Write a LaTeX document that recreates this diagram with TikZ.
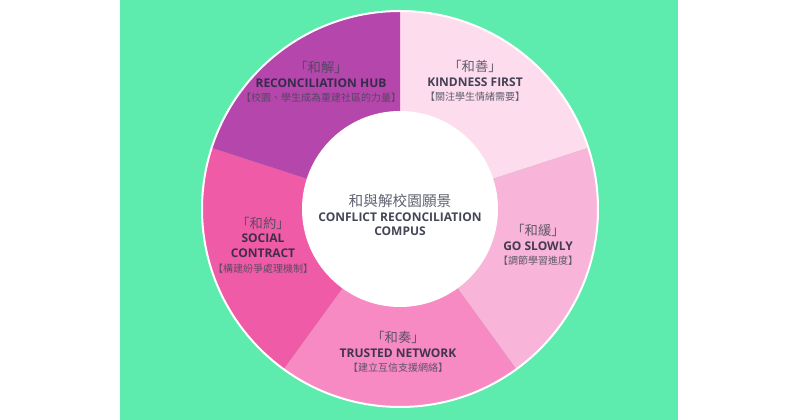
\documentclass[tikz,border=0pt]{standalone}
\usepackage{fontspec}
\setsansfont{Open Sans}
\newfontfamily\cjk{Noto Sans CJK TC}
\usetikzlibrary{positioning}
\definecolor{ink}{HTML}{23263A}
\definecolor{mint}{HTML}{5EEBAE}
\definecolor{kind}{HTML}{FDDCED}
\definecolor{slow}{HTML}{F8B4D9}
\definecolor{trust}{HTML}{F78AC2}
\definecolor{social}{HTML}{EF5BA7}
\definecolor{hub}{HTML}{B546AB}
\newcommand{\seghead}[1]{{\cjk\color{ink!85}\fontsize{10}{11}\selectfont #1}}
\newcommand{\segname}[1]{{\sffamily\bfseries\fontsize{9}{11}\selectfont #1}}
\newcommand{\segnote}[1]{{\cjk\color{ink!85}\fontsize{7.5}{11}\selectfont #1}}

\begin{document}
\begin{tikzpicture}[x=.75pt,y=.75pt,text=ink,
  seglabel/.style={align=center,inner sep=0pt,text opacity=.85,font=\fontsize{9}{11}\selectfont}]
\useasboundingbox (0,0) rectangle (800,420);
\fill[white] (0,0) rectangle (800,420);
\fill[mint] (120,0) rectangle (678,420);

% ring, clockwise from the top
\coordinate (o) at (400,211);
\foreach \a/\c in {90/kind,18/slow,-54/trust,-126/social,162/hub}
  \fill[\c] (o) -- ++(\a:198) arc[start angle=\a,end angle=\a-72,radius=198] -- cycle;
\draw[white,line width=1.5pt] (o) circle (198);
\node[circle,fill=white,minimum size=147pt,inner sep=0pt] (core) at (o) {};

% segment labels
\node[seglabel] (kindtext) at (475,339)
  {\seghead{「和善」}\\\segname{KINDNESS FIRST}\\\segnote{【關注學生情緒需要】}};
\node[seglabel] (slowtext) at (538,175)
  {\seghead{「和緩」}\\\segname{GO SLOWLY}\\\segnote{【調節學習進度】}};
\node[seglabel] (trusttext) at (398,68)
  {\seghead{「和奏」}\\\segname{TRUSTED NETWORK}\\\segnote{【建立互信支援網絡】}};
\node[seglabel] (socialtext) at (263,175)
  {\seghead{「和約」}\\\segname{SOCIAL}\\\segname{CONTRACT}\\\segnote{【構建紛爭處理機制】}};
\node[seglabel] (hubtext) at (321,338)
  {\seghead{「和解」}\\\segname{RECONCILIATION HUB}\\\segnote{【校園、學生成為重建社區的力量】}};

% centre
\node[seglabel] (vision) at (400,205)
  {{\cjk\color{ink!85}\fontsize{11}{11}\selectfont 和與解校園願景}\\\segname{CONFLICT RECONCILIATION}\\\segname{COMPUS}};

\end{tikzpicture}
\end{document}
